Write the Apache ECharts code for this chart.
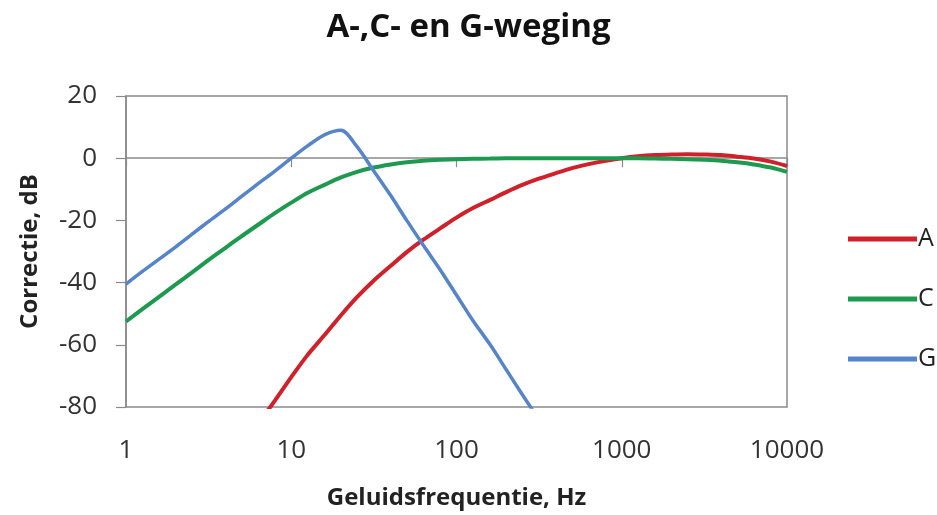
<!DOCTYPE html>
<html>
<head>
<meta charset="utf-8">
<script src="https://cdn.jsdelivr.net/npm/echarts@6/dist/echarts.min.js"></script>
<style>html,body{margin:0;padding:0;background:#fff}#c{width:937px;height:515px}</style>
</head>
<body>
<div id="c"></div>
<script>
const freqs = [1, 1.25, 1.6, 2, 2.5, 3.15, 4, 5, 6.3, 8, 10, 12.5, 16, 20, 25, 31.5, 40, 50, 63, 80, 100, 125, 160, 200, 250, 315, 400, 500, 630, 800, 1000, 1250, 1600, 2000, 2500, 3150, 4000, 5000, 6300, 8000, 10000];
const weightA = [null, null, null, null, null, null, null, null, -85.4, -77.8, -70.4, -63.4, -56.7, -50.5, -44.7, -39.4, -34.6, -30.2, -26.2, -22.5, -19.1, -16.1, -13.4, -10.9, -8.6, -6.6, -4.8, -3.2, -1.9, -0.8, 0, 0.6, 1.0, 1.2, 1.3, 1.2, 1.0, 0.5, -0.1, -1.1, -2.5];
const weightC = [-52.5, -48.6, -44.4, -40.6, -36.8, -32.8, -28.8, -25.1, -21.4, -17.6, -14.3, -11.2, -8.5, -6.2, -4.4, -3.0, -2.0, -1.3, -0.8, -0.5, -0.3, -0.2, -0.1, 0, 0, 0, 0, 0, 0, 0, 0, 0, -0.1, -0.2, -0.3, -0.5, -0.8, -1.3, -2.0, -3.0, -4.4];
const weightG = [-40.5, -36.5, -32.3, -28.5, -24.5, -20.4, -16.3, -12.3, -8.2, -4.1, 0, 3.9, 7.6, 9.0, 3.7, -4, -12, -20, -28, -36, -44, -52, -60, -68, -76, -84, -92, null, null, null, null, null, null, null, null, null, null, null, null, null, null];
const seriesNames = ['A', 'C', 'G'];
const yTicks = [-80, -60, -40, -20, 0, 20];

function pairs(vals) {
  const out = [];
  for (let i = 0; i < freqs.length; i++) if (vals[i] !== null) out.push([freqs[i], vals[i]]);
  return out;
}
const font = '"Open Sans", "Liberation Sans", sans-serif';
const chart = echarts.init(document.getElementById('c'));
const colors = ['#d0202a', '#1e9a50', '#5585c8'];
const data = [weightA, weightC, weightG];
chart.setOption({
  animation: false,
  title: {
    text: 'A-,C- en G-weging', left: 'center', top: 6,
    textStyle: { fontFamily: font, fontSize: 33, fontWeight: 'bold', color: '#111' }
  },
  legend: {
    orient: 'vertical', left: 843, top: 216, icon: 'rect', itemWidth: 69, itemHeight: 5, itemGap: 24,
    textStyle: { fontFamily: font, fontSize: 25, color: '#222', padding: [0, 0, 0, -4], lineHeight: 36 },
    data: seriesNames
  },
  grid: { left: 126, right: 150, top: 96, bottom: 108, show: true, borderColor: '#8a8a8a', borderWidth: 1.5, backgroundColor: 'transparent', outerBoundsMode: 'none', containLabel: false },
  xAxis: [
    {
      type: 'log', logBase: 10, min: 1, max: 10000,
      axisLine: { onZero: true, lineStyle: { color: '#8a8a8a', width: 1.5 } },
      axisTick: { show: true, length: 9, lineStyle: { color: '#8a8a8a', width: 1.2 } },
      axisLabel: { show: false }, splitLine: { show: false }, minorTick: { show: false }
    },
    {
      type: 'log', logBase: 10, min: 1, max: 10000, position: 'bottom',
      axisLine: { show: false, onZero: false }, axisTick: { show: false }, splitLine: { show: false },
      axisLabel: { margin: 31, fontFamily: font, fontSize: 26, color: '#333', formatter: v => String(Math.round(v)) },
      name: 'Geluidsfrequentie, Hz', nameLocation: 'middle', nameGap: 79,
      nameTextStyle: { fontFamily: font, fontSize: 24, fontWeight: 'bold', color: '#222' }
    }
  ],
  yAxis: {
    type: 'value', min: yTicks[0], max: yTicks[yTicks.length - 1], interval: 20,
    axisLine: { show: true, lineStyle: { color: '#8a8a8a', width: 1.5 } },
    axisTick: { show: true, length: 10, lineStyle: { color: '#8a8a8a', width: 1.2 } },
    splitLine: { show: false },
    axisLabel: { margin: 29, fontFamily: font, fontSize: 26, color: '#333' },
    name: 'Correctie, dB', nameLocation: 'middle', nameGap: 84, nameRotate: 90,
    nameTextStyle: { fontFamily: font, fontSize: 24, fontWeight: 'bold', color: '#222' }
  },
  series: seriesNames.map((n, i) => ({
    name: n, type: 'line', xAxisIndex: 0, data: pairs(data[i]), symbol: 'none',
    smooth: 0.3, clip: true,
    lineStyle: { color: colors[i], width: i === 2 ? 3.5 : 4 },
    itemStyle: { color: colors[i] }
  }))
});
</script>
</body>
</html>
